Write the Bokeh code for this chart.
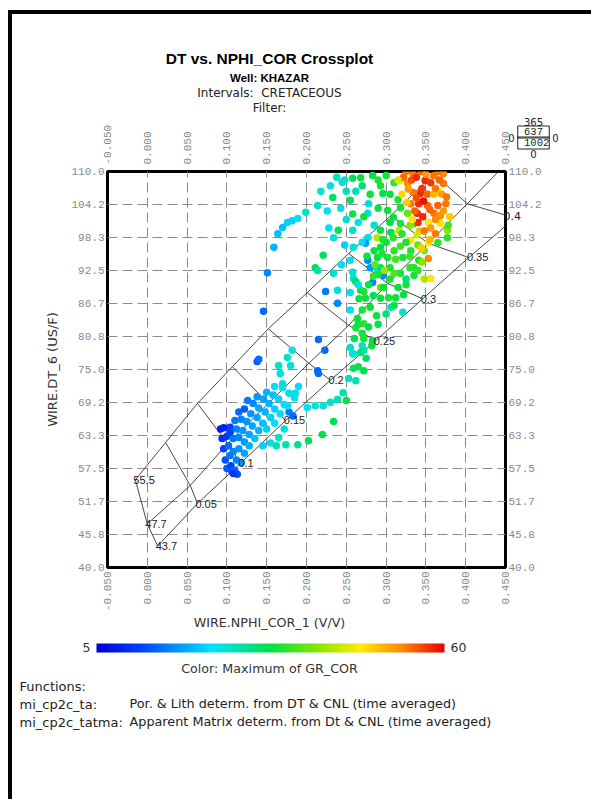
import math
from bokeh.plotting import figure
from bokeh.models import (Range1d, LinearAxis, FixedTicker, PrintfTickFormatter,
                          LinearColorMapper, ColorBar, ColumnDataSource, Label)
from bokeh.embed import file_html
from bokeh.resources import INLINE

# ---------------- data ----------------
x_ticks = [-0.05, 0.0, 0.05, 0.10, 0.15, 0.20, 0.25, 0.30, 0.35, 0.40, 0.45]
y_ticks = [40.0, 45.8333, 51.6667, 57.5, 63.3333, 69.1667, 75.0, 80.8333,
           86.6667, 92.5, 98.3333, 104.1667, 110.0]

porosity_labels = ["0.05", "0.1", "0.15", "0.2", "0.25", "0.3", "0.35", "0.4"]
matrix_labels = ["55.5", "47.7", "43.7"]

sand_nphi = [-0.015, 0.023, 0.063, 0.107, 0.152, 0.201, 0.253, 0.306, 0.360, 0.414]
sand_dt = [55.5, 62.1, 69.0, 75.5, 82.2, 88.6, 95.5, 102.2, 109.6, 116.4]
lime_nphi = [0.000, 0.054, 0.101, 0.152, 0.203, 0.253, 0.302, 0.353, 0.402, 0.452]
lime_dt = [47.7, 54.5, 61.9, 69.0, 76.1, 82.8, 90.2, 97.3, 104.3, 111.6]
dolo_nphi = [0.013, 0.063, 0.117, 0.174, 0.230, 0.287, 0.346, 0.404, 0.462, 0.520]
dolo_dt = [43.8, 51.3, 58.4, 66.0, 73.1, 80.1, 87.5, 94.8, 101.8, 108.7]

quad_counts = ["365", "637", "1002", "0", "0", "0"]

pt_nphi = [
    0.100, 0.105, 0.110, 0.098, 0.104, 0.112, 0.118, 0.096, 0.102, 0.108,
    0.115, 0.122, 0.094, 0.100, 0.108, 0.115, 0.122, 0.128, 0.092, 0.104,
    0.112, 0.120, 0.128, 0.135, 0.110, 0.118, 0.125, 0.132, 0.140, 0.115,
    0.122, 0.130, 0.138, 0.145, 0.150, 0.126, 0.133, 0.140, 0.148, 0.155,
    0.160, 0.138, 0.146, 0.153, 0.160, 0.167, 0.150, 0.158, 0.165, 0.172,
    0.178, 0.170, 0.178, 0.185, 0.183, 0.160, 0.106, 0.113, 0.096, 0.104,
    0.108, 0.165, 0.172, 0.155, 0.162, 0.145,
    0.186, 0.176, 0.167, 0.165, 0.180, 0.176, 0.182, 0.138, 0.201, 0.211,
    0.221, 0.230, 0.239, 0.246, 0.250, 0.174, 0.189, 0.2025, 0.220, 0.234,
    0.214, 0.215, 0.223, 0.253, 0.262, 0.259, 0.272, 0.259, 0.270, 0.170,
    0.190,
    0.146, 0.151, 0.159, 0.164, 0.170, 0.176, 0.182, 0.189, 0.199, 0.140,
    0.224, 0.239, 0.215, 0.211, 0.214, 0.221, 0.234, 0.240, 0.234, 0.214,
    0.233, 0.245, 0.258, 0.255, 0.258, 0.259, 0.255, 0.258, 0.259, 0.255,
    0.239, 0.268, 0.270, 0.278, 0.283, 0.293, 0.296, 0.277, 0.293, 0.277,
    0.274, 0.277, 0.280, 0.289, 0.296, 0.283, 0.293, 0.289, 0.302, 0.293,
    0.309, 0.316, 0.289, 0.268, 0.274, 0.284, 0.293, 0.303, 0.312, 0.306,
    0.321, 0.293, 0.264, 0.262, 0.272, 0.270, 0.283, 0.255, 0.272, 0.258,
    0.334, 0.349, 0.360, 0.372, 0.372, 0.365, 0.343, 0.334, 0.327, 0.318,
    0.341, 0.339, 0.352, 0.365, 0.375, 0.360, 0.368, 0.353, 0.368, 0.377,
    0.362, 0.353, 0.365, 0.353, 0.356, 0.341, 0.331, 0.335, 0.335, 0.321,
    0.331, 0.335, 0.318, 0.309, 0.302, 0.318, 0.327, 0.331, 0.377, 0.378,
    0.322, 0.328, 0.345, 0.352, 0.338, 0.346, 0.356, 0.342, 0.360, 0.367,
    0.330, 0.348, 0.340,
    0.300, 0.305, 0.310, 0.315, 0.290, 0.305, 0.230, 0.238, 0.250,
    0.325, 0.332, 0.338, 0.344, 0.350, 0.356, 0.362, 0.370, 0.347, 0.355,
    0.340, 0.336, 0.333, 0.348, 0.355, 0.362, 0.372, 0.380, 0.376, 0.366,
    0.320, 0.315, 0.326, 0.344, 0.339,
    0.285, 0.295, 0.300, 0.310, 0.305, 0.318, 0.325, 0.320, 0.297, 0.305,
    0.315, 0.325, 0.280, 0.270, 0.288, 0.266, 0.262, 0.290, 0.312, 0.330,
    0.340, 0.345, 0.348,
    0.218, 0.226, 0.243, 0.250, 0.262, 0.228, 0.248, 0.265, 0.270, 0.244,
    0.265, 0.255,
    0.265, 0.272, 0.278, 0.260, 0.268,
    0.272, 0.278, 0.284, 0.276, 0.296, 0.306, 0.318, 0.330, 0.322, 0.310,
    0.300, 0.290, 0.282, 0.275, 0.265, 0.286, 0.298, 0.310, 0.325, 0.285,
    0.272, 0.280, 0.290, 0.258, 0.248,
]
pt_dt = [
    57.5, 58.0, 57.2, 59.0, 59.8, 59.0, 58.5, 61.0, 61.5, 60.5,
    61.0, 60.2, 62.8, 63.2, 62.8, 63.0, 62.2, 61.5, 64.5, 64.8,
    64.5, 64.2, 63.5, 62.8, 66.0, 66.2, 65.8, 65.0, 64.2, 67.5,
    68.0, 67.2, 66.5, 65.5, 64.5, 69.5, 69.0, 68.2, 67.5, 66.5,
    65.5, 70.2, 69.8, 69.0, 68.0, 67.2, 71.0, 70.5, 69.8, 68.8,
    67.5, 71.8, 70.8, 70.0, 66.8, 72.0, 57.0, 56.5, 64.7, 63.9,
    56.6, 63.0, 64.5, 62.0, 61.5, 61.5,
    70.8, 68.6, 74.3, 75.7, 75.7, 77.1, 78.4, 76.4, 68.3, 68.6,
    68.6, 69.2, 69.7, 70.9, 69.5, 61.7, 61.7, 62.4, 63.5, 65.8,
    74.8, 74.3, 78.4, 73.4, 73.0, 75.2, 74.8, 77.8, 79.2, 72.5,
    72.0,
    85.3, 92.1, 96.6, 99.0, 100.1, 101.0, 101.3, 101.7, 102.8, 76.8,
    88.8, 86.7, 80.3, 93.0, 92.5, 95.2, 92.0, 99.6, 98.3, 104.0,
    105.4, 108.1, 108.8, 104.9, 99.6, 96.6, 94.3, 92.2, 91.1, 88.6,
    89.0, 108.9, 107.5, 104.3, 109.3, 107.5, 106.1, 102.6, 99.6, 98.3,
    97.3, 94.3, 93.0, 92.5, 91.6, 90.4, 93.0, 94.8, 94.8, 96.6,
    98.3, 99.6, 98.3, 89.0, 87.6, 88.1, 87.6, 87.7, 87.7, 86.0,
    85.1, 89.5, 84.0, 82.4, 83.1, 81.4, 80.1, 78.9, 78.4, 77.8,
    109.6, 108.4, 109.3, 109.6, 107.9, 106.6, 106.1, 106.3, 107.9, 108.4,
    104.3, 102.6, 104.0, 104.0, 104.3, 102.6, 102.2, 101.0, 100.8, 99.6,
    99.0, 97.4, 97.4, 94.6, 91.1, 94.3, 96.0, 93.0, 91.6, 94.8,
    97.8, 100.8, 100.8, 101.9, 103.1, 103.6, 102.6, 104.3, 98.3, 100.5,
    109.0, 106.9, 107.0, 106.0, 105.3, 102.0, 100.0, 99.5, 106.0, 108.5,
    100.5, 96.0, 97.0,
    109.3, 106.0, 108.0, 105.0, 103.5, 101.0, 107.5, 109.0, 106.5,
    110.0, 108.5, 109.0, 110.0, 109.5, 108.0, 107.0, 106.0, 104.8, 103.3,
    101.0, 103.0, 101.5, 99.5, 98.0, 101.5, 103.0, 102.0, 105.5, 110.0,
    106.0, 108.5, 104.5, 96.5, 98.8,
    96.0, 95.5, 97.5, 96.0, 93.0, 92.0, 97.5, 99.0, 89.5, 91.0,
    89.5, 90.0, 86.0, 85.5, 84.5, 87.5, 90.5, 91.8, 94.5, 95.0,
    92.5, 94.0, 91.0,
    106.5, 103.0, 103.5, 101.5, 106.5, 100.0, 97.0, 101.0, 97.5, 93.5,
    90.0, 85.5,
    83.0, 80.5, 82.5, 80.5, 78.0,
    88.8, 90.0, 91.5, 95.0, 98.0, 99.2, 96.8, 93.0, 88.2, 86.3,
    84.8, 83.0, 79.2, 77.0, 75.5, 93.5, 92.5, 92.0, 91.0, 100.5,
    102.0, 106.0, 108.5, 102.5, 108.5,
]
pt_gr = [
    14, 12, 15, 13, 16, 17, 18, 12, 15, 17,
    18, 19, 10, 11, 16, 17, 18, 20, 9, 12,
    17, 18, 19, 21, 16, 17, 18, 19, 20, 15,
    14, 18, 19, 21, 22, 16, 17, 19, 20, 22,
    23, 18, 19, 20, 22, 23, 20, 21, 22, 24,
    16, 23, 24, 24, 15, 24, 14, 13, 9, 12,
    11, 26, 25, 24, 27, 22,
    24, 23, 25, 26, 25, 26, 24, 14, 24, 25,
    25, 26, 27, 27, 33, 27, 29, 31, 32, 32,
    15, 15, 15, 26, 27, 31, 32, 25, 26, 25,
    23,
    15, 17, 20, 21, 21, 22, 22, 23, 26, 15,
    16, 17, 15, 32, 27, 31, 26, 32, 25, 26,
    31, 25, 32, 31, 26, 25, 24, 26, 25, 24,
    25, 33, 30, 25, 33, 34, 32, 25, 33, 25,
    18, 17, 18, 25, 17, 17, 30, 33, 34, 33,
    35, 43, 42, 33, 33, 31, 33, 34, 33, 26,
    26, 38, 33, 34, 35, 34, 32, 26, 27, 25,
    54, 58, 54, 53, 54, 47, 58, 54, 53, 47,
    58, 58, 55, 55, 54, 54, 53, 47, 47, 40,
    54, 47, 35, 53, 47, 34, 34, 34, 34, 34,
    47, 35, 34, 33, 33, 34, 38, 54, 35, 36,
    55, 52, 57, 55, 56, 58, 52, 50, 50, 55,
    40, 40, 38,
    34, 33, 35, 34, 33, 32, 24, 26, 27,
    54, 56, 58, 55, 52, 57, 54, 52, 59, 55,
    58, 55, 47, 54, 50, 53, 52, 49, 54, 54,
    48, 44, 49, 49, 44,
    33, 34, 33, 35, 34, 34, 34, 35, 33, 34,
    33, 34, 33, 34, 33, 33, 32, 34, 36, 36,
    35, 40, 42,
    25, 24, 25, 26, 27, 24, 22, 24, 23, 24,
    24, 24,
    33, 34, 33, 32, 30,
    34, 33, 35, 33, 34, 33, 36, 35, 33, 33,
    30, 32, 33, 31, 33, 38, 41, 37, 30, 26,
    33, 33, 34, 33, 26,
]

# ---------------- layout helpers ----------------
FL, FT, FW, FH = 107, 171, 398, 396          # frame position on the page (px)
XMIN, XMAX, YMIN, YMAX = -0.05, 0.45, 40.0, 110.0


def X(px):
    return XMIN + (px - FL) * (XMAX - XMIN) / FW


def Y(py):
    return YMAX - (py - FT) * (YMAX - YMIN) / FH


# colour map (blue -> cyan -> green -> yellow -> red)
stops = [(0.0, (0, 0, 210)), (0.12, (0, 60, 255)), (0.33, (0, 225, 255)),
         (0.5, (0, 225, 70)), (0.63, (130, 230, 0)), (0.76, (255, 235, 0)),
         (0.88, (255, 135, 0)), (1.0, (235, 0, 0))]
palette = []
for i in range(256):
    t = i / 255
    for (t0, c0), (t1, c1) in zip(stops[:-1], stops[1:]):
        if t0 <= t <= t1:
            f = (t - t0) / (t1 - t0)
            c = [int(round(a + (b - a) * f)) for a, b in zip(c0, c1)]
            palette.append("#%02x%02x%02x" % tuple(c))
            break
mapper = LinearColorMapper(palette=palette, low=5, high=60)

# canvas origin on the page: (12, 14)
p = figure(frame_width=FW, frame_height=FH,
           x_range=Range1d(XMIN, XMAX), y_range=Range1d(YMIN, YMAX),
           output_backend="svg", toolbar_location=None,
           min_border_left=FL - 12, min_border_right=86,
           min_border_top=FT - 14, min_border_bottom=232,
           background_fill_color="white", border_fill_color="white")
p.styles = {"margin-left": "8px", "margin-top": "10px",
            "border-left": "4px solid black", "border-top": "4px solid black"}

p.outline_line_color = "black"
p.outline_line_width = 3

xt = FixedTicker(ticks=x_ticks)
yt = FixedTicker(ticks=y_ticks)

ax_top = LinearAxis()
ax_right = LinearAxis()
p.add_layout(ax_top, "above")
p.add_layout(ax_right, "right")

for ax in p.xaxis:
    ax.ticker = xt
    ax.formatter = PrintfTickFormatter(format="%.3f")
    ax.major_label_orientation = math.pi / 2
for ax in p.yaxis:
    ax.ticker = yt
    ax.formatter = PrintfTickFormatter(format="%.1f")
for ax in p.axis:
    ax.axis_line_color = None
    ax.major_tick_line_color = None
    ax.minor_tick_line_color = None
    ax.major_tick_out = 0
    ax.major_tick_in = 0
    ax.major_label_text_color = "#8a8a8a"
    ax.major_label_text_font = "Liberation Mono"
    ax.major_label_text_font_size = "11px"
p.below[0].major_label_standoff = 4
ax_top.major_label_standoff = 7
p.left[0].major_label_standoff = 3
ax_right.major_label_standoff = 3

p.left[0].axis_label = "WIRE.DT_6 (US/F)"
p.left[0].axis_label_standoff = 8
p.left[0].axis_label_text_font = "DejaVu Sans"
p.left[0].axis_label_text_font_style = "normal"
p.left[0].axis_label_text_font_size = "13px"
p.left[0].axis_label_text_color = "#333333"

p.xgrid.ticker = xt
p.ygrid.ticker = yt
for g in (p.xgrid, p.ygrid):
    g.grid_line_color = "#8c8c8c"
    g.grid_line_dash = "10 5"
    g.grid_line_width = 1

# ---------------- overlay chart ----------------
n = len(porosity_labels) + 1
for xs, ys in ((sand_nphi, sand_dt), (lime_nphi, lime_dt), (dolo_nphi, dolo_dt)):
    p.line(xs, ys, line_color="#333333", line_width=0.9)
cross_x = [[sand_nphi[i], lime_nphi[i], dolo_nphi[i]] for i in range(n)]
cross_y = [[sand_dt[i], lime_dt[i], dolo_dt[i]] for i in range(n)]
p.multi_line(cross_x, cross_y, line_color="#333333", line_width=0.9)

# ---------------- scatter ----------------
src = ColumnDataSource(dict(x=pt_nphi, y=pt_dt, gr=pt_gr))
p.scatter("x", "y", source=src, size=7.5, line_color=None,
          fill_color={"field": "gr", "transform": mapper})

# overlay labels
lab_src = ColumnDataSource(dict(x=dolo_nphi[1:n - 1], y=dolo_dt[1:n - 1],
                                t=porosity_labels[:-1]))
p.text("x", "y", text="t", source=lab_src, text_font_size="11px",
       text_color="#222222", text_baseline="middle", text_align="left",
       x_offset=-2)
mat_src = ColumnDataSource(dict(x=[sand_nphi[0], lime_nphi[0], dolo_nphi[0]],
                                y=[sand_dt[0], lime_dt[0], dolo_dt[0]],
                                t=matrix_labels))
p.text("x", "y", text="t", source=mat_src, text_font_size="11px",
       text_color="#222222", text_baseline="middle", text_align="left",
       x_offset=-2)


def lab(side, px, py, text, size="12px", font="DejaVu Sans", style="normal",
        align="center", color="#222222", **kw):
    # labels live in the side panels (so they are not clipped to the frame)
    p.add_layout(Label(x=X(px), y=Y(py), text=text, text_font=font,
                       text_font_size=size, text_font_style=style,
                       text_align=align, text_baseline="middle",
                       text_color=color, **kw), side)


lab("right", 503, 215, porosity_labels[-1], size="11px", align="left")

# titles
lab("above", 269, 58, "DT vs. NPHI_COR Crossplot", size="15.5px",
    font="Liberation Sans", style="bold", color="black")
lab("above", 269, 77, "Well: KHAZAR", size="11.5px", font="Liberation Sans",
    style="bold", color="black")
lab("above", 269, 92, "Intervals:\u00a0\u00a0CRETACEOUS", size="12px")
lab("above", 269, 107, "Filter:", size="12px")

# bottom axis title
lab("below", 269, 622, "WIRE.NPHI_COR_1 (V/V)", size="12.7px", color="#333333")

# quadrant count box
lab("left", 533, 121, quad_counts[0], size="10px")
lab("above", 533, 131.5, "\u00a0" + quad_counts[1] + "\u00a0", size="10.5px",
    font="Liberation Mono", border_line_color="#222222", border_line_width=1)
lab("above", 533, 142.5, "\u00a0" + quad_counts[2], size="10.5px",
    font="Liberation Mono", border_line_color="#222222", border_line_width=1)
lab("left", 533, 153, quad_counts[3], size="10px")
lab("right", 511, 137, quad_counts[4], size="10px")
lab("right", 555, 137, quad_counts[5], size="10px")

# colour bar
cb = ColorBar(color_mapper=mapper, orientation="horizontal", width=348,
              height=9, location=(96 - FL, FT + FH - 652), padding=0,
              ticker=FixedTicker(ticks=[]), bar_line_color=None,
              border_line_color=None, background_fill_alpha=0,
              major_tick_line_color=None, major_label_text_font_size="0px")
p.add_layout(cb, "center")
lab("below", 90, 647, "5", size="12.5px", align="right", color="#333333")
lab("below", 450, 647, "60", size="12.5px", align="left", color="#333333")
lab("below", 269, 668, "Color: Maximum of GR_COR", size="12.7px",
    color="#333333")

# functions text
lab("below", 19, 704, "Functions:\nmi_cp2c_ta:\nmi_cp2c_tatma:", size="13px",
    align="left")
lab("below", 129, 711.5,
    "Por. & Lith determ. from DT & CNL (time averaged)\n"
    "Apparent Matrix determ. from Dt & CNL (time averaged)",
    size="12.8px", align="left")

open("out.html", "w").write(file_html(p, INLINE))
